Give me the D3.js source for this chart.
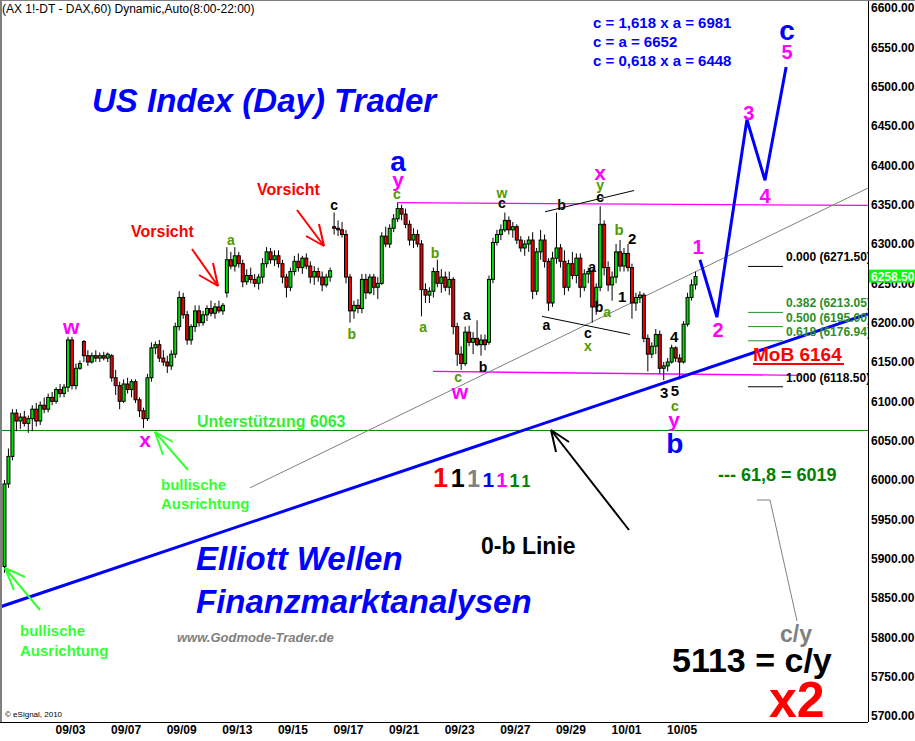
<!DOCTYPE html>
<html><head><meta charset="utf-8">
<script src="https://cdn.jsdelivr.net/npm/d3@7"></script>
<style>
body{margin:0;background:#fff}
svg{display:block}
text{font-family:Arial,"Liberation Sans",sans-serif}
</style>
</head><body>
<svg id="chart" width="915" height="741"></svg>
<script>
// ---------- DATA ----------
const title = "(AX 1!-DT - DAX,60) Dynamic,Auto(8:00-22:00)";
const barsPerDay = 7;          // hourly session compressed to 7 slots per trading day
const firstSlot = -3;          // first bars belong to the evening before 09/01
// [open, high, low, close]
const ohlc = [
[5890,6000,5882,5995],[5995,6040,5990,6030],[6030,6090,6025,6085],
// 09/01
[6085,6090,6062,6075],[6075,6085,6065,6080],[6080,6088,6068,6072],[6072,6082,6060,6078],[6078,6095,6062,6090],[6090,6098,6068,6075],[6075,6100,6070,6095],
// 09/02
[6095,6105,6085,6090],[6090,6110,6086,6105],[6105,6112,6095,6100],[6100,6118,6097,6115],[6115,6122,6105,6110],[6110,6122,6105,6118],[6118,6182,6112,6178],
// 09/03
[6178,6182,6115,6120],[6120,6148,6115,6142],[6142,6152,6140,6148],[6176,6178,6150,6158],[6158,6165,6145,6150],[6150,6162,6148,6158],[6158,6165,6150,6155],
// 09/06
[6155,6162,6150,6158],[6158,6163,6152,6155],[6155,6162,6150,6160],[6158,6160,6125,6130],[6130,6140,6108,6120],[6120,6125,6090,6100],[6100,6128,6098,6122],
// 09/07
[6122,6130,6110,6115],[6115,6128,6105,6125],[6125,6128,6098,6102],[6102,6105,6080,6088],[6088,6092,6066,6078],[6078,6135,6075,6130],[6130,6175,6125,6168],
// 09/08
[6168,6176,6160,6172],[6172,6178,6150,6155],[6155,6165,6145,6150],[6150,6158,6136,6145],[6145,6165,6140,6160],[6160,6200,6155,6195],[6195,6240,6190,6232],
// 09/09
[6232,6238,6205,6210],[6210,6215,6172,6178],[6178,6198,6172,6195],[6195,6222,6188,6215],[6215,6222,6195,6200],[6200,6215,6196,6210],[6210,6222,6202,6218],
// 09/10
[6218,6228,6208,6212],[6212,6225,6205,6220],[6220,6228,6212,6215],[6215,6225,6210,6222],[6238,6296,6232,6280],[6280,6290,6268,6272],[6272,6296,6265,6285],
// 09/13
[6285,6290,6270,6275],[6275,6280,6245,6252],[6252,6268,6248,6260],[6260,6270,6250,6255],[6255,6262,6245,6250],[6250,6262,6242,6258],[6258,6282,6250,6275],
// 09/14
[6275,6296,6270,6290],[6290,6295,6275,6280],[6280,6292,6272,6285],[6285,6292,6270,6275],[6275,6280,6250,6258],[6258,6262,6232,6245],[6245,6270,6240,6265],
// 09/15
[6265,6285,6260,6278],[6278,6288,6265,6270],[6270,6285,6262,6282],[6282,6288,6268,6272],[6272,6278,6250,6258],[6258,6272,6248,6265],[6265,6270,6252,6258],
// 09/16
[6258,6265,6240,6248],[6248,6262,6245,6258],[6258,6270,6252,6266],[6322,6340,6312,6320],[6320,6330,6310,6318],[6318,6328,6308,6312],[6312,6318,6250,6258],
// 09/17
[6258,6262,6200,6215],[6215,6228,6205,6222],[6222,6230,6212,6218],[6218,6262,6212,6255],[6255,6262,6230,6238],[6238,6262,6236,6258],[6258,6262,6235,6245],
// 09/20
[6245,6258,6230,6250],[6250,6315,6248,6310],[6310,6322,6296,6300],[6300,6325,6295,6320],[6320,6338,6315,6332],[6332,6352,6328,6345],[6345,6350,6330,6338],
// 09/21
[6338,6345,6320,6325],[6325,6330,6298,6305],[6305,6320,6295,6312],[6312,6318,6296,6300],[6300,6305,6208,6242],[6242,6250,6225,6235],[6235,6245,6225,6240],
// 09/22
[6240,6270,6232,6265],[6265,6280,6245,6250],[6250,6268,6238,6258],[6258,6265,6240,6245],[6245,6265,6235,6255],[6255,6258,6185,6195],[6195,6200,6145,6160],
// 09/23
[6160,6170,6140,6148],[6148,6195,6145,6188],[6188,6196,6170,6175],[6175,6188,6160,6180],[6180,6203,6170,6172],[6172,6185,6158,6178],[6178,6185,6165,6172],
// 09/24
[6175,6260,6172,6255],[6255,6308,6250,6302],[6302,6318,6298,6312],[6312,6325,6305,6318],[6318,6340,6315,6330],[6330,6335,6312,6318],[6318,6328,6308,6322],
// 09/27
[6322,6325,6300,6305],[6305,6310,6290,6295],[6295,6305,6285,6300],[6300,6310,6290,6305],[6305,6315,6230,6240],[6240,6295,6235,6290],[6290,6318,6280,6305],
// 09/28
[6305,6312,6270,6278],[6278,6282,6215,6225],[6225,6290,6220,6282],[6282,6340,6275,6295],[6295,6300,6270,6278],[6278,6292,6235,6245],[6245,6280,6240,6275],
// 09/29
[6275,6290,6255,6260],[6260,6288,6250,6282],[6282,6288,6232,6245],[6245,6268,6240,6262],[6262,6270,6250,6265],[6265,6268,6200,6220],[6220,6250,6210,6245],
// 09/30
[6245,6348,6240,6325],[6325,6330,6260,6270],[6270,6278,6240,6248],[6248,6265,6228,6258],[6258,6300,6250,6290],[6290,6305,6265,6272],[6272,6295,6265,6288],
// 10/01
[6288,6300,6265,6270],[6270,6275,6205,6225],[6225,6238,6215,6232],[6232,6240,6225,6235],[6235,6238,6175,6180],[6180,6185,6138,6160],[6160,6175,6155,6170],
// 10/04
[6170,6192,6160,6185],[6185,6190,6135,6142],[6142,6150,6127,6145],[6145,6155,6138,6150],[6150,6172,6148,6168],[6168,6170,6150,6155],[6155,6160,6128,6150],
// 10/05
[6150,6202,6148,6198],[6198,6238,6195,6232],[6232,6255,6228,6248],[6248,6265,6242,6258.5]
];
const lastPrice = 6258.5;
// x-axis: trading-day index (09/01 = 0)
const dayTicks  = [2,4,6,8,10,12,14,16,18,20,22,24];
const dayLabels = ["09/03","09/07","09/09","09/13","09/15","09/17","09/21","09/23","09/27","09/29","10/01","10/05"];
const priceTicks = d3.range(5700, 6601, 50);

// Fibonacci retracement
const fibRatios = ["0.000","0.382","0.500","0.618","1.000"];
const fibPrices = [6271.50, 6213.05, 6195.00, 6176.94, 6118.50];
const fibColors = ["#000","#2a8f2a","#2a8f2a","#2a8f2a","#000"];
const fibDays = [26.39, 27.65];

const supportPrice = 6063;
// magenta range lines [day, price]
const rangeTop = [[13.76, 6352.5],[30.7, 6349]];
const rangeBottom = [[15.06, 6138],[28.26, 6133]];
// thin gray trend line
const grayTrend = [[8.47, 5990],[30.7, 6371]];
// thick blue 0-b line
const blueTrend = [[-0.52, 5838.6],[30.7, 6211]];
// black triangle lines
const triUpper = [[19.09, 6341],[22.29, 6368]];
const triLower = [[18.98, 6208],[22.14, 6185]];
// projected path (1-2-3-4-5)
const projDays   = [24.66, 25.27, 26.35, 27.0, 27.76];
const projPrices = [6280, 6207, 6458, 6381, 6525];

// Wave labels: [day, price, text, colour, size]
const M="#ff00ff", B="#0000ff", G="#4f9a00", K="#000";
const waveLabels = [
 [2.04,6194.5,"w",M,21],[4.70,6052,"x",M,21],[7.79,6305,"a",G,14],[11.50,6349.6,"c",K,14],
 [12.14,6185.6,"b",G,14],[13.80,6405,"a",B,28],[13.80,6382,"y",M,21],[13.76,6363,"c",G,14],
 [15.13,6288.6,"b",G,14],[14.70,6194.5,"a",G,14],[16.28,6209.8,"a",K,14],[16.86,6143.7,"b",K,14],
 [15.96,6131.5,"c",G,14],[16.03,6113,"w",M,21],[17.54,6364.8,"w",G,14],[17.54,6352.1,"c",K,14],
 [19.68,6349.6,"b",K,14],[19.14,6197,"a",K,14],[21.07,6391.5,"x",M,21],[21.07,6375,"y",G,14],
 [21.07,6359.8,"c",K,14],[21.75,6319,"b",G,15],[22.22,6307.6,"2",K,15],[20.78,6270.8,"a",K,14],
 [21.86,6232.7,"1",K,15],[21.03,6219.9,"b",K,14],[21.32,6213.6,"a",G,14],[20.63,6186.9,"c",K,14],
 [20.63,6170.4,"x",G,14],[23.73,6183,"4",K,15],[23.37,6110.6,"3",K,15],[23.76,6113.2,"5",K,15],
 [23.76,6094.1,"c",G,14],[23.73,6076.3,"y",M,21],[23.76,6045.8,"b",B,28],
 [24.59,6296,"1",M,20],[25.31,6190.7,"2",M,20],[26.42,6466.5,"3",M,20],[27.0,6361,"4",M,20],
 [27.79,6544,"5",M,20],[27.79,6571,"c",B,28]
];
const targetLines = ["c = 1,618 x a = 6981","c = a = 6652","c = 0,618 x a = 6448"];
const ones = [["1","#ff0000",27],["1","#000000",25],["1","#808080",23],["1","#0000ff",21],["1","#ff00ff",20],["1","#008000",18],["1","#008000",16]];

// ---------- SCALES ----------
const W = 915, H = 741, plotR = 868, plotB = 722;
const x = d3.scaleLinear().domain([0, 25]).range([14.4, 709.4]);
const y = d3.scaleLinear().domain([5700, 6600]).range([716, 8]);
const barDay = i => (i + firstSlot + 0.5) / barsPerDay;
const line = d3.line().x(d => x(d[0])).y(d => y(d[1]));

const svg = d3.select("#chart");
svg.append("rect").attr("width", W).attr("height", H).attr("fill", "#fff");
svg.append("defs").append("clipPath").attr("id","clip")
  .append("rect").attr("x",0).attr("y",0).attr("width",plotR).attr("height",plotB);
const g = svg.append("g").attr("clip-path","url(#clip)");

// support line
g.append("line").attr("x1",0).attr("x2",plotR).attr("y1",y(supportPrice)).attr("y2",y(supportPrice))
  .attr("stroke","#008000").attr("stroke-width",1);
// magenta range
g.append("path").attr("d",line(rangeTop)).attr("stroke",M).attr("stroke-width",1.3).attr("fill","none");
g.append("path").attr("d",line(rangeBottom)).attr("stroke",M).attr("stroke-width",1.3).attr("fill","none");
// gray trend
g.append("path").attr("d",line(grayTrend)).attr("stroke","#808080").attr("stroke-width",1).attr("fill","none");
// triangle
g.append("path").attr("d",line(triUpper)).attr("stroke","#000").attr("stroke-width",1).attr("fill","none");
g.append("path").attr("d",line(triLower)).attr("stroke","#000").attr("stroke-width",1).attr("fill","none");

// candles
const cg = g.append("g");
ohlc.forEach((b, i) => {
  const cx = x(barDay(i));
  const [o, h, l, c] = b;
  cg.append("line").attr("x1",cx).attr("x2",cx).attr("y1",y(h)).attr("y2",y(l)).attr("stroke","#000").attr("stroke-width",1);
  const top = y(Math.max(o,c)), bot = y(Math.min(o,c));
  cg.append("rect").attr("x",cx-1.5).attr("y",top).attr("width",3).attr("height",Math.max(1,bot-top))
    .attr("fill", c >= o ? "#00dd00" : "#ee0000").attr("stroke","#000").attr("stroke-width",1);
});

// blue 0-b line
g.append("path").attr("d",line(blueTrend)).attr("stroke","#0000ff").attr("stroke-width",3).attr("fill","none");
// projection
g.append("path").attr("d",line(projDays.map((d,i)=>[d,projPrices[i]]))).attr("stroke","#0000ff").attr("stroke-width",3)
  .attr("fill","none").attr("stroke-linejoin","miter");

// fib
fibPrices.forEach((p,i)=>{
  g.append("line").attr("x1",x(fibDays[0])).attr("x2",x(fibDays[1])).attr("y1",y(p)).attr("y2",y(p))
    .attr("stroke",fibColors[i]).attr("stroke-width",1);
  g.append("text").attr("x",x(fibDays[1])+3).attr("y",y(p)-5).text(fibRatios[i]+" ("+d3.format(".2f")(p)+")")
    .attr("fill",fibColors[i]).attr("font-size",12).attr("font-weight","bold");
});

// wave labels
waveLabels.forEach(([d,p,t,col,s])=>{
  g.append("text").attr("x",x(d)).attr("y",y(p)).text(t).attr("fill",col).attr("font-size",s)
   .attr("font-weight","bold").attr("text-anchor","middle").attr("dominant-baseline","central");
});

// ---------- FRAME & AXES ----------
svg.append("line").attr("x1",1).attr("x2",1).attr("y1",0).attr("y2",plotB).attr("stroke","#808080").attr("stroke-width",2);
svg.append("line").attr("x1",plotR+0.5).attr("x2",plotR+0.5).attr("y1",0).attr("y2",plotB).attr("stroke","#000");
svg.append("line").attr("x1",0).attr("x2",plotR).attr("y1",plotB+0.5).attr("y2",plotB+0.5).attr("stroke","#000");
svg.append("line").attr("x1",0).attr("x2",W).attr("y1",0.5).attr("y2",0.5).attr("stroke","#808080");

const yAxis = d3.axisRight(y).tickValues(priceTicks).tickSize(0).tickPadding(3).tickFormat(d3.format(".2f"));
const ya = svg.append("g").attr("transform",`translate(${plotR},0)`).call(yAxis);
ya.select(".domain").remove();
ya.selectAll("text").attr("font-size",12).attr("font-weight","bold").attr("fill","#000").attr("font-family","Arial, Liberation Sans, sans-serif");

const xAxis = d3.axisBottom(x).tickValues(dayTicks).tickSize(0).tickPadding(3).tickFormat((d,i)=>dayLabels[i]);
const xa = svg.append("g").attr("transform",`translate(0,${plotB})`).call(xAxis);
xa.select(".domain").remove();
xa.selectAll("text").attr("font-size",12).attr("font-weight","bold").attr("fill","#000").attr("font-family","Arial, Liberation Sans, sans-serif");

// last price box
svg.append("rect").attr("x",plotR+1).attr("y",y(lastPrice)-7).attr("width",W-plotR-1).attr("height",13).attr("fill","#00ff00");
svg.append("text").attr("x",plotR+3).attr("y",y(lastPrice)).attr("dominant-baseline","central").text(d3.format(".2f")(lastPrice))
  .attr("fill","#fff").attr("font-size",12).attr("font-weight","bold");

// ---------- ANNOTATIONS ----------
function T(xp, yp, s, col, size, opt={}) {
  return svg.append("text").attr("x",xp).attr("y",yp).text(s).attr("fill",col).attr("font-size",size)
    .attr("font-weight",opt.weight||"bold").attr("font-style",opt.italic?"italic":"normal")
    .attr("text-anchor",opt.anchor||"start");
}
function P(pts, col, w=2) {
  svg.append("path").attr("d",d3.line()(pts)).attr("stroke",col).attr("stroke-width",w).attr("fill","none");
}
T(2,13,title,"#000",12,{weight:"normal"});
T(5,717,"© eSignal, 2010","#000",8,{weight:"normal"});

T(92,112,"US Index (Day) Trader","#0000ff",33,{italic:true});
T(196,570,"Elliott Wellen","#0000ff",33,{italic:true});
T(196,613,"Finanzmarktanalysen","#0000ff",33,{italic:true});
T(177,642,"www.Godmode-Trader.de","#808080",13,{italic:true});

targetLines.forEach((s,i)=>T(593,[28,47,66][i],s,"#0000ff",15));

T(131,237,"Vorsicht","#ff0000",16);
T(257,195,"Vorsicht","#ff0000",16);
P([[192,249],[218,286]],"#ff0000"); P([[213,263],[218,286]],"#ff0000"); P([[199,275],[218,286]],"#ff0000");
P([[297,210],[324,246]],"#ff0000"); P([[306,236],[324,246]],"#ff0000"); P([[319,224],[324,246]],"#ff0000");

T(197,427,"Unterstützung 6063","#33ee33",16);
T(161,490,"bullische","#33ff33",15);
T(161,509,"Ausrichtung","#33ff33",15);
P([[155,432],[188,470]],"#33ff33"); P([[155,432],[173,442]],"#33ff33"); P([[155,432],[163,455]],"#33ff33");
T(20,636,"bullische","#33ff33",15);
T(20,656,"Ausrichtung","#33ff33",15);
P([[5,568],[40,610]],"#33ff33"); P([[5,568],[25,577]],"#33ff33"); P([[5,568],[14,590]],"#33ff33");

// 1 1 1 1 1 1 1
let ox = 433;
ones.forEach(([s,col,size])=>{ T(ox,487,s,col,size); ox += size*0.66; });

T(481,554,"0-b Linie","#000",23);
P([[629,530],[551,430]],"#000"); P([[551,430],[556,452]],"#000"); P([[551,430],[569,442]],"#000");

T(753,361,"MoB 6164","#ff0000",19);
svg.append("line").attr("x1",753).attr("x2",844).attr("y1",364).attr("y2",364).attr("stroke","#ff0000").attr("stroke-width",2);

T(718,481,"--- 61,8 = 6019","#008000",18);
P([[757,500],[770,500],[797,621]],"#808080",1);
T(780,642,"c/y","#808080",23);
T(672,672,"5113 = c/y","#000",34);
T(769,717,"x2","#ff0000",50);
</script>
</body></html>
